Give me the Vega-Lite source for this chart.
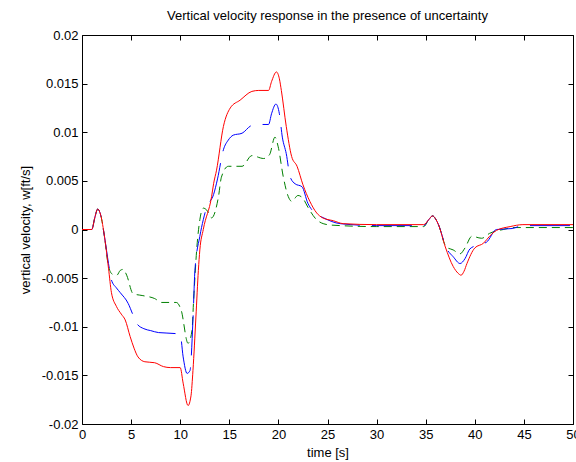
{
  "$schema": "https://vega.github.io/schema/vega-lite/v6.json",
  "width": 491,
  "height": 389,
  "autosize": "none",
  "padding": {"left": 82, "top": 35, "right": 3, "bottom": 38},
  "background": "white",
  "config": {
    "view": {"stroke": null},
    "font": "Liberation Sans",
    "axis": {
      "domainColor": "black", "domainWidth": 1, "tickColor": "black", "tickWidth": 1,
      "tickSize": -5, "labelFont": "Liberation Sans", "labelFontSize": 13, "labelColor": "black",
      "titleFont": "Liberation Sans", "titleFontSize": 13, "titleFontWeight": "normal", "titleColor": "black",
      "grid": false, "labelPadding": 9
    }
  },
  "title": {"text": "Vertical velocity response in the presence of uncertainty", "font": "Liberation Sans", "fontSize": 13, "fontWeight": "normal", "color": "black", "offset": 6, "anchor": "middle"},
  "data": {"values": [
    {"s":"green","t":0,"v":0},{"s":"green","t":1,"v":0},{"s":"green","t":1.3,"v":0.0012},{"s":"green","t":1.6,"v":0.0021},{"s":"green","t":1.9,"v":0.0015},{"s":"green","t":2.3,"v":-0.0008},{"s":"green","t":2.7,"v":-0.0038},{"s":"green","t":3.1,"v":-0.0046},{"s":"green","t":3.55,"v":-0.0047},{"s":"green","t":3.9,"v":-0.0042},{"s":"green","t":4.2,"v":-0.0041},{"s":"green","t":4.55,"v":-0.0047},{"s":"green","t":5.2,"v":-0.0066},{"s":"green","t":6.2,"v":-0.0068},{"s":"green","t":7.4,"v":-0.0071},{"s":"green","t":8.1,"v":-0.0075},{"s":"green","t":9.6,"v":-0.0075},{"s":"green","t":10.1,"v":-0.0083},{"s":"green","t":10.8,"v":-0.0117},{"s":"green","t":11.2,"v":-0.0104},{"s":"green","t":11.35,"v":-0.0076},{"s":"green","t":11.7,"v":-0.0018},{"s":"green","t":12.0,"v":0.001},{"s":"green","t":12.35,"v":0.0022},{"s":"green","t":12.7,"v":0.002},{"s":"green","t":13.2,"v":0.0012},{"s":"green","t":13.9,"v":0.0034},{"s":"green","t":14.2,"v":0.0054},{"s":"green","t":14.9,"v":0.0065},{"s":"green","t":16.3,"v":0.0065},{"s":"green","t":17.3,"v":0.0076},{"s":"green","t":18.5,"v":0.0073},{"s":"green","t":19.1,"v":0.0077},{"s":"green","t":19.65,"v":0.0095},{"s":"green","t":19.98,"v":0.0085},{"s":"green","t":20.5,"v":0.0054},{"s":"green","t":21.0,"v":0.0034},{"s":"green","t":21.35,"v":0.0029},{"s":"green","t":22.0,"v":0.0035},{"s":"green","t":22.5,"v":0.0032},{"s":"green","t":23.0,"v":0.0023},{"s":"green","t":23.9,"v":0.001},{"s":"green","t":25,"v":0.0005},{"s":"green","t":26.3,"v":0.0004},{"s":"green","t":30,"v":0.0003},{"s":"green","t":34.8,"v":0.0003},{"s":"green","t":35.3,"v":0.001},{"s":"green","t":35.7,"v":0.0014},{"s":"green","t":36.0,"v":0.0011},{"s":"green","t":36.3,"v":0.0005},{"s":"green","t":37.1,"v":-0.0018},{"s":"green","t":37.8,"v":-0.0021},{"s":"green","t":38.5,"v":-0.0025},{"s":"green","t":39.0,"v":-0.0019},{"s":"green","t":39.7,"v":-0.0007},{"s":"green","t":40.7,"v":-0.0009},{"s":"green","t":41.5,"v":-0.0004},{"s":"green","t":42.9,"v":0.0},{"s":"green","t":44,"v":0.0002},{"s":"green","t":50,"v":0.0002},
    {"s":"blue","t":0,"v":0},{"s":"blue","t":1,"v":0},{"s":"blue","t":1.3,"v":0.0012},{"s":"blue","t":1.6,"v":0.0021},{"s":"blue","t":1.9,"v":0.0015},{"s":"blue","t":2.3,"v":-0.0008},{"s":"blue","t":2.7,"v":-0.0035},{"s":"blue","t":3.0,"v":-0.0052},{"s":"blue","t":3.5,"v":-0.006},{"s":"blue","t":3.9,"v":-0.0065},{"s":"blue","t":4.7,"v":-0.0076},{"s":"blue","t":5.2,"v":-0.0088},{"s":"blue","t":5.6,"v":-0.0097},{"s":"blue","t":6.3,"v":-0.0102},{"s":"blue","t":7.0,"v":-0.0104},{"s":"blue","t":7.8,"v":-0.0106},{"s":"blue","t":9.5,"v":-0.0107},{"s":"blue","t":10.0,"v":-0.0108},{"s":"blue","t":10.3,"v":-0.0131},{"s":"blue","t":10.7,"v":-0.0148},{"s":"blue","t":11.0,"v":-0.0145},{"s":"blue","t":11.3,"v":-0.0093},{"s":"blue","t":11.5,"v":-0.0042},{"s":"blue","t":12.0,"v":-0.0007},{"s":"blue","t":12.35,"v":0.001},{"s":"blue","t":12.7,"v":0.0023},{"s":"blue","t":13.4,"v":0.0036},{"s":"blue","t":13.8,"v":0.0052},{"s":"blue","t":14.4,"v":0.0082},{"s":"blue","t":14.9,"v":0.0092},{"s":"blue","t":15.4,"v":0.0097},{"s":"blue","t":16.3,"v":0.0099},{"s":"blue","t":17.3,"v":0.0107},{"s":"blue","t":18.4,"v":0.0108},{"s":"blue","t":19.0,"v":0.0108},{"s":"blue","t":19.3,"v":0.0119},{"s":"blue","t":19.75,"v":0.0129},{"s":"blue","t":20.1,"v":0.0119},{"s":"blue","t":20.4,"v":0.0095},{"s":"blue","t":20.8,"v":0.0078},{"s":"blue","t":21.2,"v":0.0054},{"s":"blue","t":21.7,"v":0.0047},{"s":"blue","t":22.4,"v":0.0044},{"s":"blue","t":23.0,"v":0.0027},{"s":"blue","t":23.6,"v":0.0018},{"s":"blue","t":24.6,"v":0.0012},{"s":"blue","t":26.3,"v":0.0006},{"s":"blue","t":30,"v":0.0004},{"s":"blue","t":34.8,"v":0.0004},{"s":"blue","t":35.3,"v":0.001},{"s":"blue","t":35.7,"v":0.0014},{"s":"blue","t":36.0,"v":0.0011},{"s":"blue","t":36.3,"v":0.0005},{"s":"blue","t":37.1,"v":-0.0019},{"s":"blue","t":37.8,"v":-0.0028},{"s":"blue","t":38.5,"v":-0.0035},{"s":"blue","t":39.0,"v":-0.003},{"s":"blue","t":39.5,"v":-0.002},{"s":"blue","t":40.3,"v":-0.0016},{"s":"blue","t":41.2,"v":-0.0013},{"s":"blue","t":42.2,"v":0.0},{"s":"blue","t":43.8,"v":0.0001},{"s":"blue","t":44.9,"v":0.0004},{"s":"blue","t":50,"v":0.0004},
    {"s":"red","t":0,"v":0},{"s":"red","t":1,"v":0},{"s":"red","t":1.3,"v":0.0012},{"s":"red","t":1.6,"v":0.0021},{"s":"red","t":1.9,"v":0.0015},{"s":"red","t":2.3,"v":-0.0008},{"s":"red","t":2.7,"v":-0.004},{"s":"red","t":3.0,"v":-0.0065},{"s":"red","t":3.5,"v":-0.0079},{"s":"red","t":4.0,"v":-0.0087},{"s":"red","t":4.4,"v":-0.0093},{"s":"red","t":4.9,"v":-0.011},{"s":"red","t":5.3,"v":-0.0122},{"s":"red","t":5.7,"v":-0.0131},{"s":"red","t":6.4,"v":-0.0136},{"s":"red","t":7.4,"v":-0.0137},{"s":"red","t":8.3,"v":-0.0141},{"s":"red","t":9.0,"v":-0.0142},{"s":"red","t":10.0,"v":-0.0142},{"s":"red","t":10.3,"v":-0.0158},{"s":"red","t":10.8,"v":-0.0181},{"s":"red","t":11.1,"v":-0.0171},{"s":"red","t":11.3,"v":-0.0145},{"s":"red","t":11.6,"v":-0.009},{"s":"red","t":11.85,"v":-0.0042},{"s":"red","t":12.0,"v":-0.0021},{"s":"red","t":12.35,"v":0.0},{"s":"red","t":13.2,"v":0.0034},{"s":"red","t":13.4,"v":0.0047},{"s":"red","t":13.7,"v":0.0061},{"s":"red","t":14.4,"v":0.0106},{"s":"red","t":15.1,"v":0.0125},{"s":"red","t":16.1,"v":0.0133},{"s":"red","t":17.3,"v":0.0142},{"s":"red","t":18.0,"v":0.0143},{"s":"red","t":19.0,"v":0.0143},{"s":"red","t":19.3,"v":0.0152},{"s":"red","t":19.8,"v":0.0162},{"s":"red","t":20.1,"v":0.0155},{"s":"red","t":20.3,"v":0.0143},{"s":"red","t":20.8,"v":0.0106},{"s":"red","t":21.35,"v":0.0075},{"s":"red","t":21.9,"v":0.0065},{"s":"red","t":22.5,"v":0.0046},{"s":"red","t":23.2,"v":0.0029},{"s":"red","t":23.9,"v":0.0017},{"s":"red","t":24.5,"v":0.0012},{"s":"red","t":25.6,"v":0.0009},{"s":"red","t":26.6,"v":0.0006},{"s":"red","t":30,"v":0.0005},{"s":"red","t":34.8,"v":0.0005},{"s":"red","t":35.3,"v":0.001},{"s":"red","t":35.7,"v":0.0014},{"s":"red","t":36.0,"v":0.0011},{"s":"red","t":36.3,"v":0.0005},{"s":"red","t":37.0,"v":-0.0018},{"s":"red","t":37.8,"v":-0.0038},{"s":"red","t":38.3,"v":-0.0045},{"s":"red","t":38.6,"v":-0.0047},{"s":"red","t":38.9,"v":-0.0043},{"s":"red","t":39.2,"v":-0.0035},{"s":"red","t":40.0,"v":-0.0019},{"s":"red","t":40.9,"v":-0.0014},{"s":"red","t":41.5,"v":-0.0007},{"s":"red","t":42.2,"v":-0.0001},{"s":"red","t":43.6,"v":0.0003},{"s":"red","t":44.9,"v":0.0005},{"s":"red","t":50,"v":0.0005}
  ]},
  "resolve": {"axis": {"x": "independent", "y": "independent"}},
  "layer": [
    {
      "transform": [{"filter": "datum.s === 'green'"}],
      "mark": {"type": "line", "color": "#008000", "strokeWidth": 1, "strokeDash": [8, 5], "interpolate": "monotone"},
      "encoding": {
        "x": {"field": "t", "type": "quantitative", "scale": {"domain": [0, 50], "nice": false, "zero": false},
              "axis": {"orient": "bottom", "title": "time [s]", "values": [0,5,10,15,20,25,30,35,40,45,50], "titlePadding": 5, "labelFlush": false, "labelOverlap": false}},
        "y": {"field": "v", "type": "quantitative", "scale": {"domain": [-0.02, 0.02], "nice": false, "zero": false},
              "axis": {"orient": "left", "title": "vertical velocity, w[ft/s]", "values": [-0.02,-0.015,-0.01,-0.005,0,0.005,0.01,0.015,0.02], "labelExpr": "toString(datum.value)", "titlePadding": 9, "labelFlush": false, "labelOverlap": false}}
      }
    },
    {
      "transform": [{"filter": "datum.s === 'blue'"}],
      "mark": {"type": "line", "color": "#0000ff", "strokeWidth": 1, "strokeDash": [40, 12], "interpolate": "monotone"},
      "encoding": {
        "x": {"field": "t", "type": "quantitative", "scale": {"domain": [0, 50], "nice": false, "zero": false},
              "axis": {"orient": "top", "title": null, "labels": false, "values": [0,5,10,15,20,25,30,35,40,45,50]}},
        "y": {"field": "v", "type": "quantitative", "scale": {"domain": [-0.02, 0.02], "nice": false, "zero": false},
              "axis": {"orient": "right", "title": null, "labels": false, "values": [-0.02,-0.015,-0.01,-0.005,0,0.005,0.01,0.015,0.02]}}
      }
    },
    {
      "transform": [{"filter": "datum.s === 'red'"}],
      "mark": {"type": "line", "color": "#ff0000", "strokeWidth": 1, "interpolate": "monotone"},
      "encoding": {
        "x": {"field": "t", "type": "quantitative", "scale": {"domain": [0, 50], "nice": false, "zero": false}, "axis": null},
        "y": {"field": "v", "type": "quantitative", "scale": {"domain": [-0.02, 0.02], "nice": false, "zero": false}, "axis": null}
      }
    }
  ]
}
